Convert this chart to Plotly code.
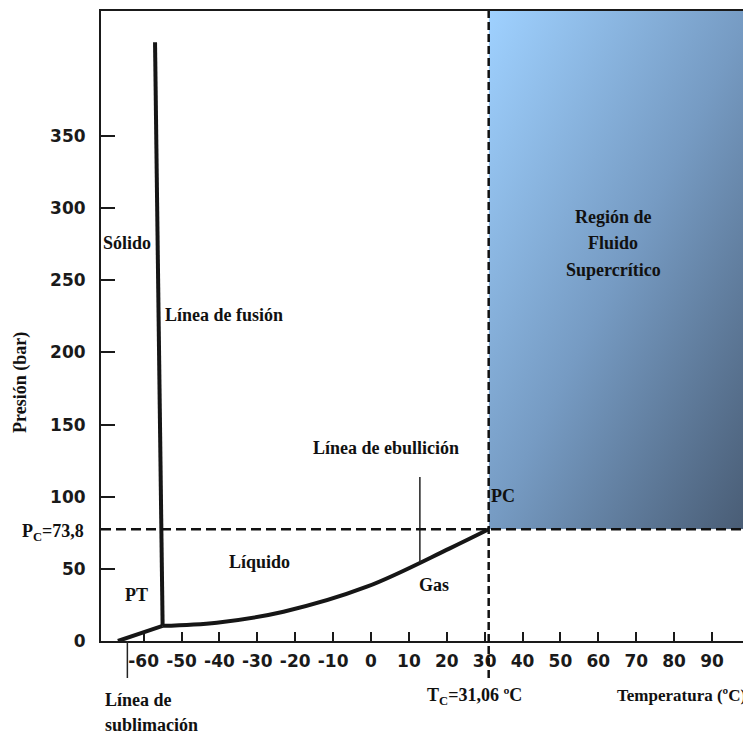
import base64
import plotly.graph_objects as go

# ---------------- data ----------------
x_tick_vals = [-60, -50, -40, -30, -20, -10, 0, 10, 20, 30, 40, 50, 60, 70, 80, 90]
y_tick_vals = [0, 50, 100, 150, 200, 250, 300, 350]

# sublimation line (T, P)
subl_T = [-66.8, -55.0]
subl_P = [0.0, 10.5]
# melting (fusion) line
fus_T = [-55.0, -57.0]
fus_P = [10.5, 415.0]
# boiling (ebullition) line
ebu_T = [-55.0, -40.7, -23.1, -1.1, 20.8, 31.06]
ebu_P = [10.5, 12.7, 20.3, 37.6, 64.2, 77.4]

Tc = 31.06
Pc_line = 77.4          # where the critical pressure line is drawn
Pc_label = "73,8"
Tc_label = "31,06"
pointer_T = 12.9
pointer_P = [54.0, 113.7]
subl_pointer_T = -64.3

x_range = [-71.26, 100.29]
y_range = [0, 436.6]

# ---------------- layout geometry ----------------
# the page body has an 8px default margin, so the figure is 8px smaller
OFF = 8
W, H = 751 - OFF, 735 - OFF
REF_L, REF_R, REF_T, REF_B = 101, 751, 11, 641      # plot area in window pixels
ML, MT = REF_L - OFF, REF_T - OFF
MR = (751 - OFF) - (REF_R - OFF)
MB = H - (REF_B - OFF)
PW, PH = REF_R - REF_L, REF_B - REF_T


def pxp(x):
    return (x - REF_L) / PW


def pyp(y):
    return (REF_B - y) / PH


serif = "Liberation Serif"
txt_font = dict(family=serif, size=18, color="#111", weight="bold")

fig = go.Figure()

line_style = dict(color="#161616", width=4)
fig.add_trace(go.Scatter(x=subl_T, y=subl_P, mode="lines", line=line_style, hoverinfo="skip"))
fig.add_trace(go.Scatter(x=fus_T, y=fus_P, mode="lines", line=line_style, hoverinfo="skip"))
fig.add_trace(go.Scatter(x=ebu_T, y=ebu_P, mode="lines",
                         line=dict(color="#161616", width=4, shape="spline", smoothing=1.0),
                         hoverinfo="skip"))
# pointer to boiling line
fig.add_trace(go.Scatter(x=[pointer_T, pointer_T], y=pointer_P, mode="lines",
                         line=dict(color="#222", width=1.5), hoverinfo="skip"))

# supercritical region gradient (SVG image)
svg = ('<svg xmlns="http://www.w3.org/2000/svg" width="100" height="100" '
       'viewBox="0 0 100 100" preserveAspectRatio="none">'
       '<defs><linearGradient id="g" x1="0" y1="0" x2="1" y2="1">'
       '<stop offset="0" stop-color="#9fd1ff"/>'
       '<stop offset="0.5" stop-color="#769bc3"/>'
       '<stop offset="1" stop-color="#485b73"/>'
       '</linearGradient></defs>'
       '<rect x="0" y="0" width="100" height="100" fill="url(#g)"/></svg>')
src = "data:image/svg+xml;base64," + base64.b64encode(svg.encode()).decode()
fig.add_layout_image(dict(source=src, xref="x", yref="y", x=Tc, y=y_range[1],
                          sizex=x_range[1] - Tc, sizey=y_range[1] - Pc_line,
                          xanchor="left", yanchor="top", sizing="stretch",
                          layer="below", opacity=1))

shapes = [
    # horizontal dashed line at Pc
    dict(type="line", xref="x", yref="y", x0=x_range[0], x1=x_range[1], y0=Pc_line, y1=Pc_line,
         line=dict(color="#111", width=2.5, dash="10px,5px")),
    # vertical dashed line at Tc (extends below the axis)
    dict(type="line", xref="x", yref="paper", x0=Tc, x1=Tc, y0=pyp(678), y1=1,
         line=dict(color="#111", width=2.5, dash="8px,4px")),
    # sublimation pointer line below the axis
    dict(type="line", xref="x", yref="paper", x0=subl_pointer_T, x1=subl_pointer_T,
         y0=pyp(678), y1=0, line=dict(color="#222", width=1.5)),
]

ann = []


def add_text(text, x, y, xanchor="center", font=None, textangle=0):
    ann.append(dict(text=text, x=pxp(x), y=pyp(y), xref="paper", yref="paper",
                    xanchor=xanchor, yanchor="middle", showarrow=False,
                    font=font or txt_font, textangle=textangle))


add_text("Sólido", 127, 243)
add_text("Línea de fusión", 224, 315)
add_text("Línea de ebullición", 386, 448)
add_text("Líquido", 259, 562)
add_text("Gas", 434, 585)
add_text("PT", 136, 595)
add_text("PC", 503, 496)
add_text("Región de", 613, 217)
add_text("Fluido", 613, 243)
add_text("Supercrítico", 613, 270)
add_text(f"P<sub>C</sub>={Pc_label}", 53, 532)
add_text(f"T<sub>C</sub>={Tc_label} ºC", 474, 697)
add_text("Temperatura (ºC)", 748, 695, xanchor="right",
         font=dict(family=serif, size=17, color="#111", weight="bold"))
add_text("Línea de", 103, 700, xanchor="left")
add_text("sublimación", 103, 725, xanchor="left")
add_text("Presión (bar)", 20, 383, textangle=-90,
         font=dict(family=serif, size=18, color="#111", weight="bold"))

tick_font = dict(family="DejaVu Sans", size=17, color="#1a1a1a", weight="bold")

fig.update_layout(
    width=W, height=H,
    margin=dict(l=ML, r=MR, t=MT, b=MB, pad=0),
    paper_bgcolor="white", plot_bgcolor="white",
    showlegend=False,
    shapes=shapes,
    annotations=ann,
    xaxis=dict(range=x_range, tickmode="array", tickvals=x_tick_vals,
               ticktext=[str(v) for v in x_tick_vals],
               ticks="inside", ticklen=9, tickwidth=2, tickcolor="#1a1a1a",
               showline=True, linecolor="#1a1a1a", linewidth=2, mirror=True,
               showgrid=False, zeroline=False, tickfont=tick_font,
               ticklabelstandoff=4),
    yaxis=dict(range=y_range, tickmode="array", tickvals=y_tick_vals,
               ticktext=[str(v) for v in y_tick_vals],
               ticks="inside", ticklen=14, tickwidth=2, tickcolor="#1a1a1a",
               showline=True, linecolor="#1a1a1a", linewidth=2,
               showgrid=False, zeroline=False, tickfont=tick_font,
               ticklabelstandoff=10),
)

fig.write_html("out.html")
